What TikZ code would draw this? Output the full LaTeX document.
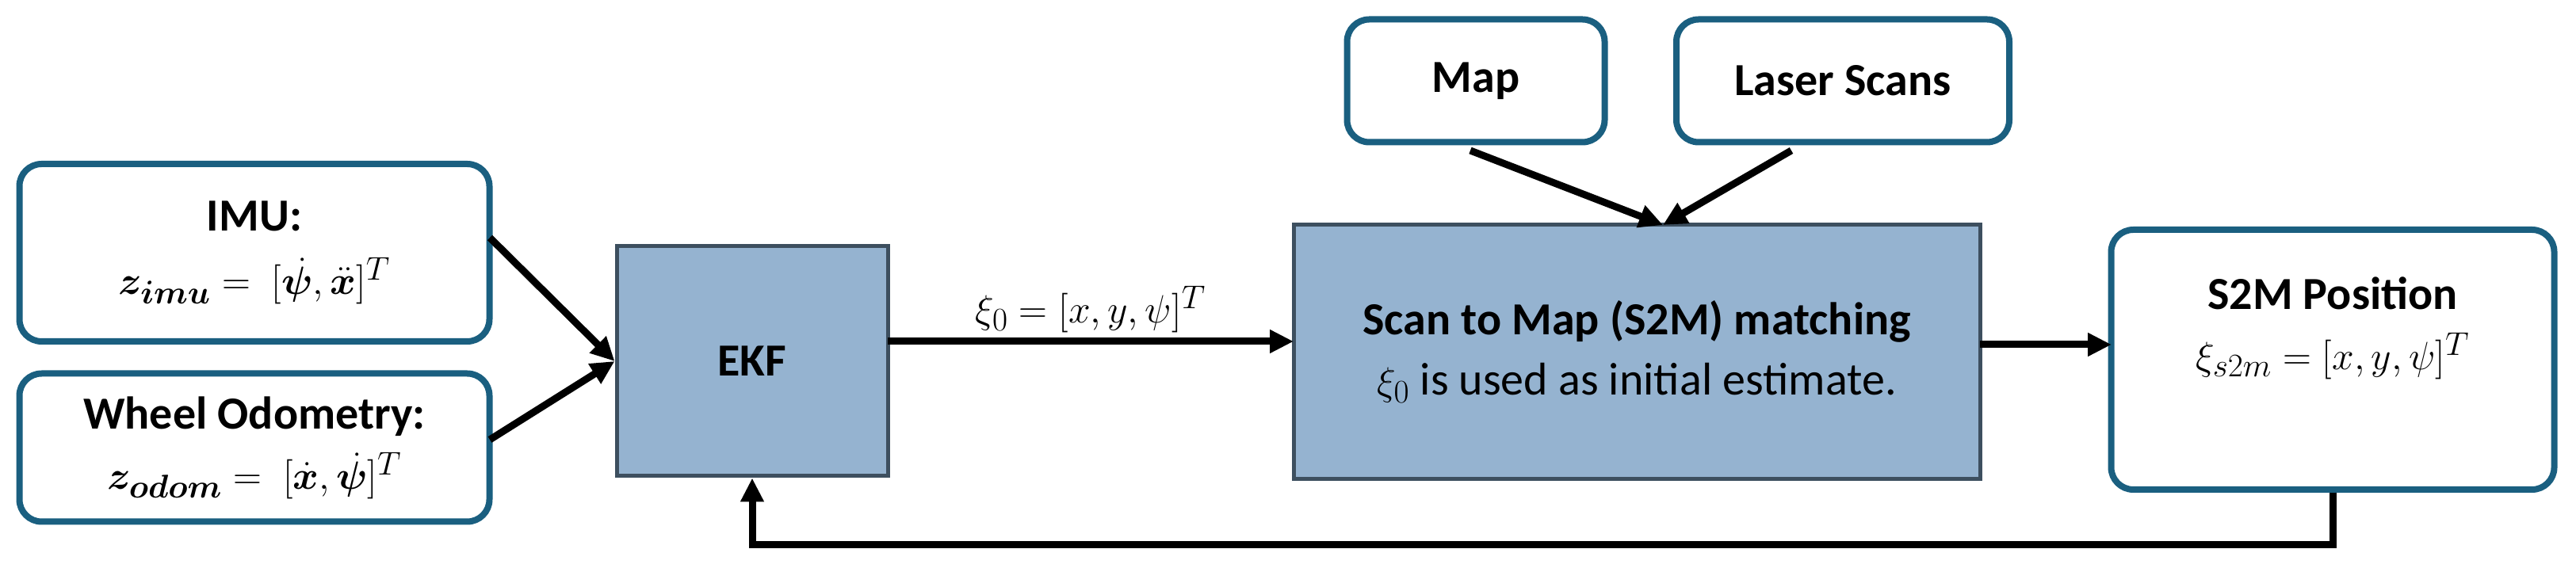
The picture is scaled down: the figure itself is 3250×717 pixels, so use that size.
\documentclass[tikz,border=0pt]{standalone}
\usepackage{amsmath,bm}
\usepackage{fontspec}
\setmainfont{Carlito}
\usetikzlibrary{arrows.meta}
\definecolor{bord}{HTML}{1A5F80}
\definecolor{fillb}{HTML}{95B3D0}
\definecolor{dbord}{HTML}{3D4F5F}
\begin{document}
\begin{tikzpicture}[x=0.5pt,y=0.5pt,
  rbox/.style={draw=bord,line width=4pt,rounded corners=14pt,fill=white,align=center,font=\fontsize{29}{38}\selectfont,inner sep=0pt},
  sbox/.style={draw=dbord,line width=2.5pt,fill=fillb,align=center,font=\fontsize{29}{38}\selectfont,inner sep=0pt},
  arr/.style={line width=4.5pt,-{Triangle[length=15pt,width=14pt]}}]
\useasboundingbox (0,0) rectangle (3250,717);
\node[rbox,minimum width=296.5pt,minimum height=112pt] (imu) at (321,398) {\textbf{IMU:}\\[2pt] $\bm{z_{imu}} =\ [\dot{\bm\psi},\ddot{\bm x}]^T$};
\node[rbox,minimum width=296.5pt,minimum height=93.5pt] (odo) at (321,152) {\textbf{Wheel Odometry:}\\[0pt] $\bm{z_{odom}} =\ [\dot{\bm x},\dot{\bm\psi}]^T$};
\node[sbox,minimum width=171pt,minimum height=145pt] (ekf) at (949,261) {\textbf{EKF}};
\node[sbox,minimum width=433pt,minimum height=160.5pt] (s2m) at (2065,273) {\textbf{Scan to Map (S2M) matching}\\ $\xi_0$ is used as initial estimate.};
\node[rbox,minimum width=162.5pt,minimum height=77.5pt] (map) at (1862,615) {\textbf{Map}};
\node[rbox,minimum width=210pt,minimum height=77.5pt] (las) at (2325,615) {\textbf{Laser Scans}};
\node[rbox,minimum width=279.5pt,minimum height=164pt] (pos) at (2943,263) {\textbf{S2M Position}\\ $\xi_{s2m}=[x,y,\psi]^T$\\[8pt]};
\coordinate (i1) at (618,417);
\coordinate (o1) at (618,162);
\draw[arr] (i1) -- (ekf.west);
\draw[arr] (o1) -- (ekf.west);
\coordinate (e1) at (1120,286);
\coordinate (s1) at (1632,286);
\draw[arr] (e1) -- node[above,font=\fontsize{29}{32}\selectfont]{$\xi_0=[x,y,\psi]^T$} (s1);
\coordinate (s2) at (2498,282);
\coordinate (p2) at (2664,282);
\draw[arr] (s2) -- (p2);
\coordinate (m1) at (1855,527);
\coordinate (l1) at (2260,527);
\coordinate (t1) at (2098,433);
\draw[arr] (m1) -- (t1);
\draw[arr] (l1) -- (t1);
\draw[arr] (pos.south) |- (949,29) -- (ekf.south);
\end{tikzpicture}
\end{document}
